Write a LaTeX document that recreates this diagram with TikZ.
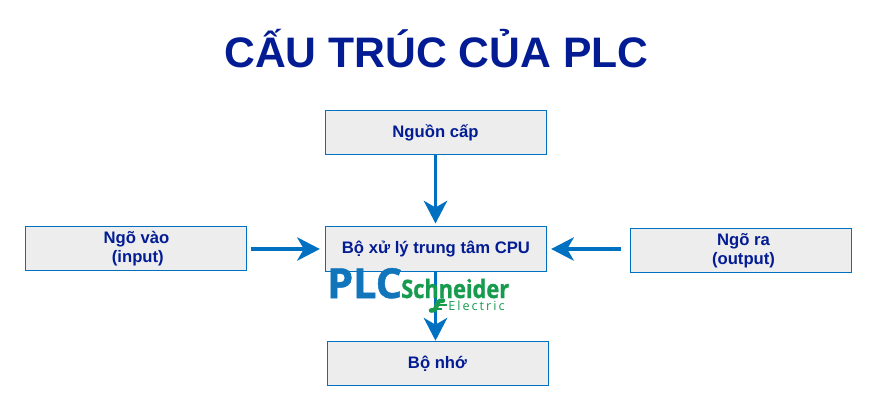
\documentclass[tikz,border=0pt]{standalone}
\usepackage{fontspec}
\setmainfont{Liberation Sans}
\newfontfamily\plcfont[BoldFeatures={FakeBold=1.2}]{Open Sans}
\newfontfamily\elecfont[LetterSpace=16]{Open Sans}
\usetikzlibrary{arrows.meta}
\definecolor{txtblue}{HTML}{031C94}
\definecolor{linkblue}{HTML}{0070C0}
\definecolor{boxgrey}{HTML}{EDEDED}
\definecolor{logoblue}{HTML}{1175BC}
\definecolor{logogreen}{HTML}{169B4F}
\tikzset{
  partbox/.style={draw=linkblue,fill=boxgrey,line width=0.75pt,minimum width=165.75pt,minimum height=33.5pt,inner sep=0pt,
    text=txtblue,font=\fontsize{12.5}{14.5}\selectfont\bfseries,align=center},
  flow/.style={draw=linkblue,line width=2.8pt,-{Stealth[length=17pt,width=17.5pt,inset=5pt]}},
  logotext/.style={inner sep=0pt,anchor=base west}
}
\begin{document}
\begin{tikzpicture}[x=0.75pt,y=-0.75pt]
\useasboundingbox (0,0) rectangle (874,411);
\node[text=txtblue,font=\fontsize{32}{36}\selectfont\bfseries,inner sep=0pt,anchor=base] (title) at (436.5,67) {CẤU TRÚC CỦA PLC};
\node[partbox] (power) at (435.5,132.5) {\raisebox{-1.2pt}{Nguồn cấp}};
\node[partbox] (cpu) at (435.5,249) {\raisebox{-1pt}{\hspace{0.7pt}Bộ xử lý trung tâm CPU}};
\node[partbox] (input) at (135.5,248.5) {\raisebox{-0.7pt}{\hspace{1.5pt}Ngõ vào}\\\raisebox{-0.7pt}{\ (input)}};
\node[partbox] (output) at (740.5,250.5) {\raisebox{-0.7pt}{\hspace{4.5pt}Ngõ ra}\\\raisebox{-0.7pt}{\hspace{4.5pt}(output)}};
\node[partbox] (memory) at (437.5,363.5) {\raisebox{-1pt}{Bộ nhớ}};
\draw[flow,shorten >=2pt] (power.south) -- (cpu.north);
\draw[flow,shorten <=3pt,shorten >=3.5pt] (input.east |- cpu.west) -- (cpu.west);
\draw[flow,shorten <=6.75pt,shorten >=3.5pt] (output.west |- cpu.east) -- (cpu.east);
\draw[flow] (cpu.south) -- (cpu.south |- memory.north);
\node[logotext,text=logoblue,font=\fontsize{31}{31}\plcfont\bfseries] (plc) at (327,298) {PLC};
\node[logotext,text=logogreen,font=\fontsize{19}{19}\plcfont\bfseries,xscale=0.86] (schneider) at (401,298) {Schneider};
\node[logotext,text=logogreen,font=\fontsize{9.5}{10}\elecfont] (electric) at (448,310.5) {Electric};
\draw[logogreen,line width=3.4pt,line cap=round] (431,310.5) .. controls (440,311) and (433,300.5) .. (443,300.5);
\draw[logogreen,line width=1.8pt] (438,305) -- (446.5,305) (436,309) -- (442,309);
\end{tikzpicture}
\end{document}
